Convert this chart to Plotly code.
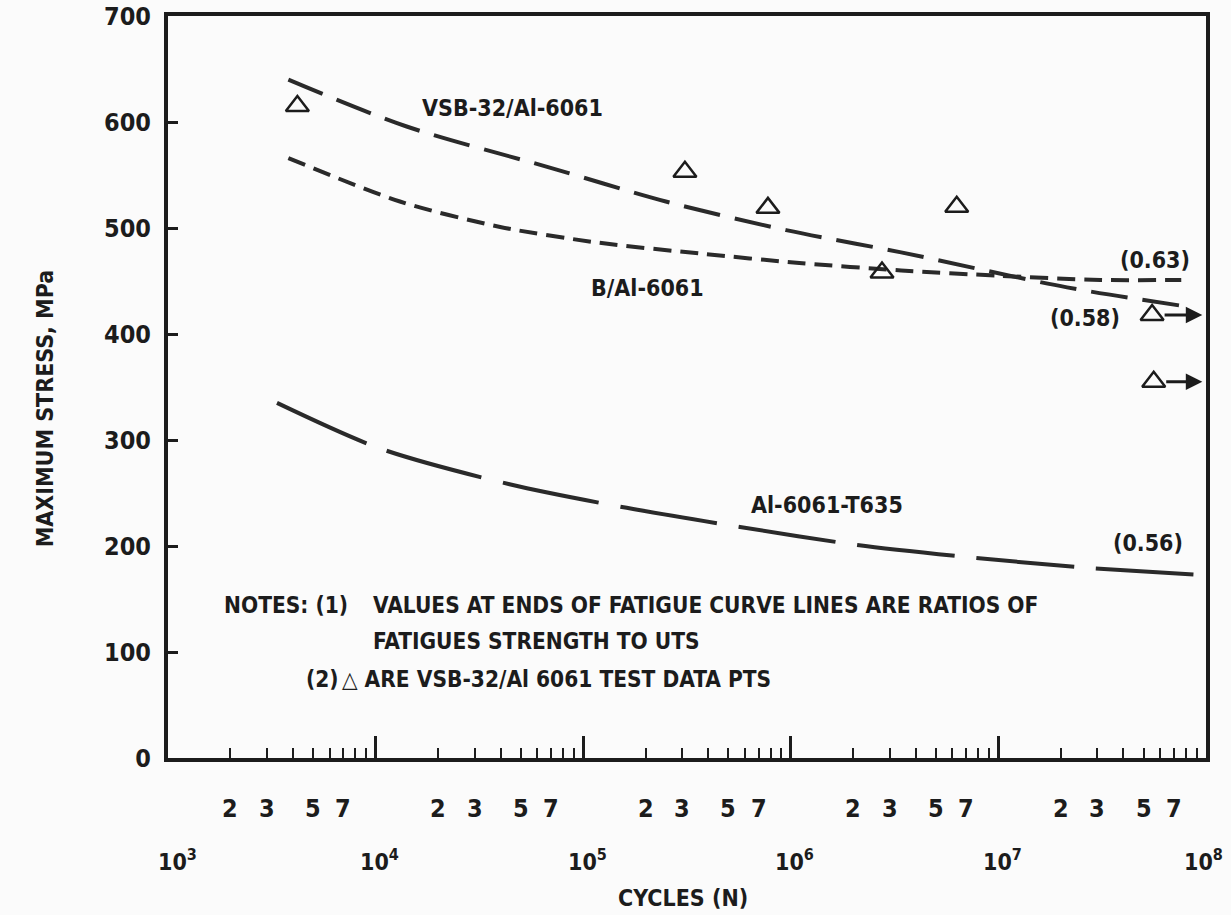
import numpy as np
import plotly.graph_objects as go

# ---------------- data ----------------
vsb_N = [3800, 14000, 69000, 250000, 950000, 3.4e6, 2.14e7, 8.7e7]
vsb_S = [640, 596, 557, 525, 498, 477, 444, 425]

bal_N = [3800, 13100, 39800, 120000, 363000, 1.1e6, 3.4e6, 1.0e7, 3.1e7, 7.6e7]
bal_S = [566, 525, 501, 486, 476, 467, 460, 455, 451, 451]

t635_N = [3350, 10500, 44700, 162000, 569000, 2.09e6, 6.76e6, 2.45e7, 8.7e7]
t635_S = [335, 292, 258, 236, 218, 201, 190, 180, 173]

test_N = [4200, 309000, 776000, 2.75e6, 6.3e6]
test_S = [615, 553, 519, 458, 520]

runout_N = [5.5e7, 5.6e7]
runout_S = [418, 355]
runout_arrow_to_N = 9.6e7

decades = [3, 4, 5, 6, 7, 8]
minor_digits = [2, 3, 5, 7]

curve_labels = [
    ("VSB-32/Al-6061", 45900, 613),
    ("B/Al-6061", 205000, 443),
    ("Al-6061-T635", 1.49e6, 239),
    ("(0.63)", 5.7e7, 470),
    ("(0.58)", 2.6e7, 415),
    ("(0.56)", 5.25e7, 203),
]

# ---------------- style ----------------
FONT = "DejaVu Sans Condensed, Liberation Sans Narrow, sans-serif"
INK = "#1c1c1c"
LINE = "#2a2a2a"
L, R, T, B = 168, 25, 16, 157
W, H = 1231, 915
PW = W - L - R

def px2paper(px):
    return (px - L) / PW

fig = go.Figure()

fig.add_trace(go.Scatter(x=vsb_N, y=vsb_S, mode="lines",
                         line=dict(color=LINE, width=4, dash="37px,15px",
                                   shape="spline", smoothing=0.9),
                         showlegend=False, hoverinfo="skip"))
fig.add_trace(go.Scatter(x=bal_N, y=bal_S, mode="lines",
                         line=dict(color=LINE, width=4, dash="18px,9px",
                                   shape="spline", smoothing=0.8),
                         showlegend=False, hoverinfo="skip"))
fig.add_trace(go.Scatter(x=t635_N, y=t635_S, mode="lines",
                         line=dict(color=LINE, width=4, dash="98px,22px",
                                   shape="spline", smoothing=0.8),
                         showlegend=False, hoverinfo="skip"))
fig.add_trace(go.Scatter(x=test_N + runout_N, y=test_S + runout_S, mode="markers",
                         marker=dict(symbol="triangle-up-open", size=20,
                                     color=INK, line=dict(width=2.5, color=INK)),
                         showlegend=False, hoverinfo="skip"))

annotations = []
# run-out arrows
for n, s in zip(runout_N, runout_S):
    annotations.append(dict(x=np.log10(runout_arrow_to_N), y=s, xref="x", yref="y",
                            ax=np.log10(n), ay=s, axref="x", ayref="y",
                            text="", showarrow=True, arrowhead=2, arrowsize=1.1,
                            arrowwidth=3, arrowcolor=INK, startstandoff=11))

# curve labels
for txt, n, s in curve_labels:
    annotations.append(dict(x=np.log10(n), y=s, xref="x", yref="y", text=txt,
                            showarrow=False,
                            font=dict(family=FONT, size=23, color=INK, weight="bold")))

# x tick labels (two rows)
for d in decades[:-1]:
    for m in minor_digits:
        annotations.append(dict(x=d + np.log10(m), y=0, xref="x", yref="paper",
                                yanchor="middle", yshift=-50, text=str(m),
                                showarrow=False,
                                font=dict(family=FONT, size=25, color=INK, weight="bold")))
dec_shift = {3: 9, 8: -3}
for d in decades:
    annotations.append(dict(x=d, y=0, xref="x", yref="paper", yanchor="middle",
                            yshift=-102, xshift=dec_shift.get(d, 4),
                            text=f"10<sup>{d}</sup>", showarrow=False,
                            font=dict(family=FONT, size=23, color=INK, weight="bold")))

# axis titles
annotations.append(dict(x=px2paper(683), y=0, xref="paper", yref="paper",
                        yanchor="middle", yshift=-140, text="CYCLES (N)",
                        showarrow=False,
                        font=dict(family=FONT, size=23, color=INK, weight="bold")))
annotations.append(dict(x=px2paper(30), y=329, xref="paper", yref="y",
                        text="MAXIMUM STRESS, MPa", textangle=-90, showarrow=False,
                        font=dict(family=FONT, size=23, color=INK, weight="bold")))

# notes
note_font = dict(family=FONT, size=22.5, color=INK, weight="bold")
notes = [
    ("NOTES: (1)", 222, 144),
    ("VALUES AT ENDS OF FATIGUE CURVE LINES ARE RATIOS OF", 371, 144),
    ("FATIGUES STRENGTH TO UTS", 371, 110),
    ("(2)", 304, 75),
    ("\u25b3 ARE VSB-32/Al 6061 TEST DATA PTS", 340, 75),
]
for txt, px, s in notes:
    annotations.append(dict(x=px2paper(px), y=s, xref="paper", yref="y", text=txt,
                            xanchor="left", showarrow=False, font=note_font))

fig.update_layout(
    width=W, height=H,
    margin=dict(l=L, r=R, t=T, b=B, autoexpand=False),
    paper_bgcolor="#fbfbfb", plot_bgcolor="#fbfbfb",
    annotations=annotations,
    xaxis=dict(type="log", range=[3, 8], tickmode="linear", tick0=0, dtick=1,
               showticklabels=False, ticks="inside", ticklen=22, tickwidth=2.5,
               tickcolor=INK, showline=True, linewidth=4, linecolor=INK, mirror=True,
               showgrid=False, zeroline=False, automargin=False,
               minor=dict(dtick="D1", ticks="inside", ticklen=10, tickwidth=2,
                          tickcolor=INK, showgrid=False)),
    yaxis=dict(range=[0, 700.01], tickmode="array",
               tickvals=[0, 100, 200, 300, 400, 500, 600, 700],
               ticks="inside", ticklen=10, tickwidth=2.5, automargin=False,
               tickcolor=INK, showline=True, linewidth=4, linecolor=INK, mirror=True,
               showgrid=False, zeroline=False, ticklabelstandoff=8,
               tickfont=dict(family=FONT, size=25, color=INK, weight="bold")),
)

fig.write_html("out.html")
